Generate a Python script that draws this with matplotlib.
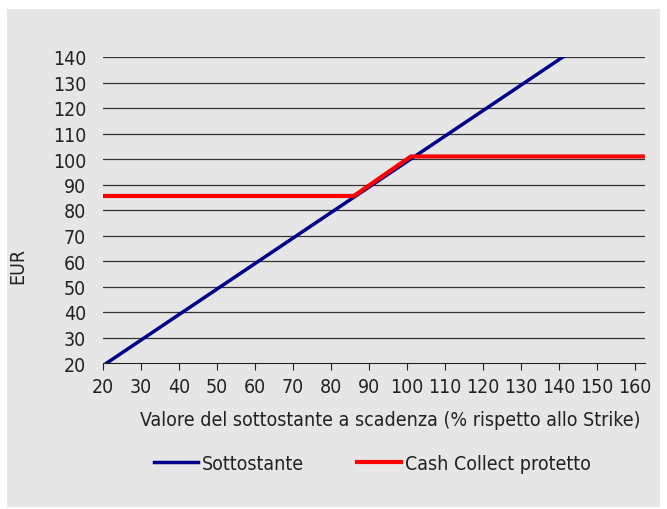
import matplotlib.pyplot as plt
from matplotlib.patches import Rectangle

plt.rcParams['font.family'] = ['DejaVu Sans']
plt.rcParams['font.stretch'] = 'condensed'

# data
sott_x = [21, 30, 40, 50, 60, 70, 80, 90, 100, 110, 120, 130, 141]
sott_y = [20, 29, 39, 49, 59, 69, 79, 89, 99, 109, 119, 129, 140]
cash_x = [20, 86, 101, 162]
cash_y = [85.5, 85.5, 101, 101]
xticks = list(range(20, 161, 10))
yticks = list(range(20, 141, 10))

fig = plt.figure(figsize=(6.67, 5.10), dpi=100)
fig.patches.append(Rectangle((7 / 667, 2 / 510), 653 / 667, 498 / 510,
                             transform=fig.transFigure, facecolor='#e6e6e6',
                             edgecolor='none', zorder=-10))
ax = fig.add_axes([103 / 667, 1 - 364 / 510, 542 / 667, 306 / 510])
ax.set_facecolor('#e6e6e6')

for v in yticks[1:]:
    ax.axhline(v, color='#333333', lw=0.9, zorder=1)

ax.plot(sott_x, sott_y, color='#00008b', lw=2.5, label='Sottostante', zorder=3)
ax.plot(cash_x, cash_y, color='#ff0000', lw=3, label='Cash Collect protetto', zorder=4)

ax.set_xlim(20, 162.6)
ax.set_ylim(20, 140)
ax.set_xticks(xticks)
ax.set_yticks(yticks)
ax.tick_params(axis='y', length=0, labelsize=14, pad=12, colors='#222222')
ax.tick_params(axis='x', length=5, direction='out', labelsize=14, pad=5, colors='#222222')
for s in ['top', 'right', 'left']:
    ax.spines[s].set_visible(False)
ax.spines['bottom'].set_color('#222222')

ax.set_ylabel('EUR', fontsize=14, color='#222222')
ax.yaxis.set_label_coords(-0.14, 0.32)
ax.set_xlabel('Valore del sottostante a scadenza (% rispetto allo Strike)',
              fontsize=14, color='#222222', va='center')
ax.xaxis.set_label_coords(0.53, -0.186)

leg = ax.legend(loc='center', bbox_to_anchor=(0.497, -0.327), ncol=2,
                frameon=False, fontsize=14, handlelength=2.3, handletextpad=0.2,
                columnspacing=2.7)
for t in leg.get_texts():
    t.set_color('#222222')

fig.savefig('out.png', dpi=100, facecolor='white')
